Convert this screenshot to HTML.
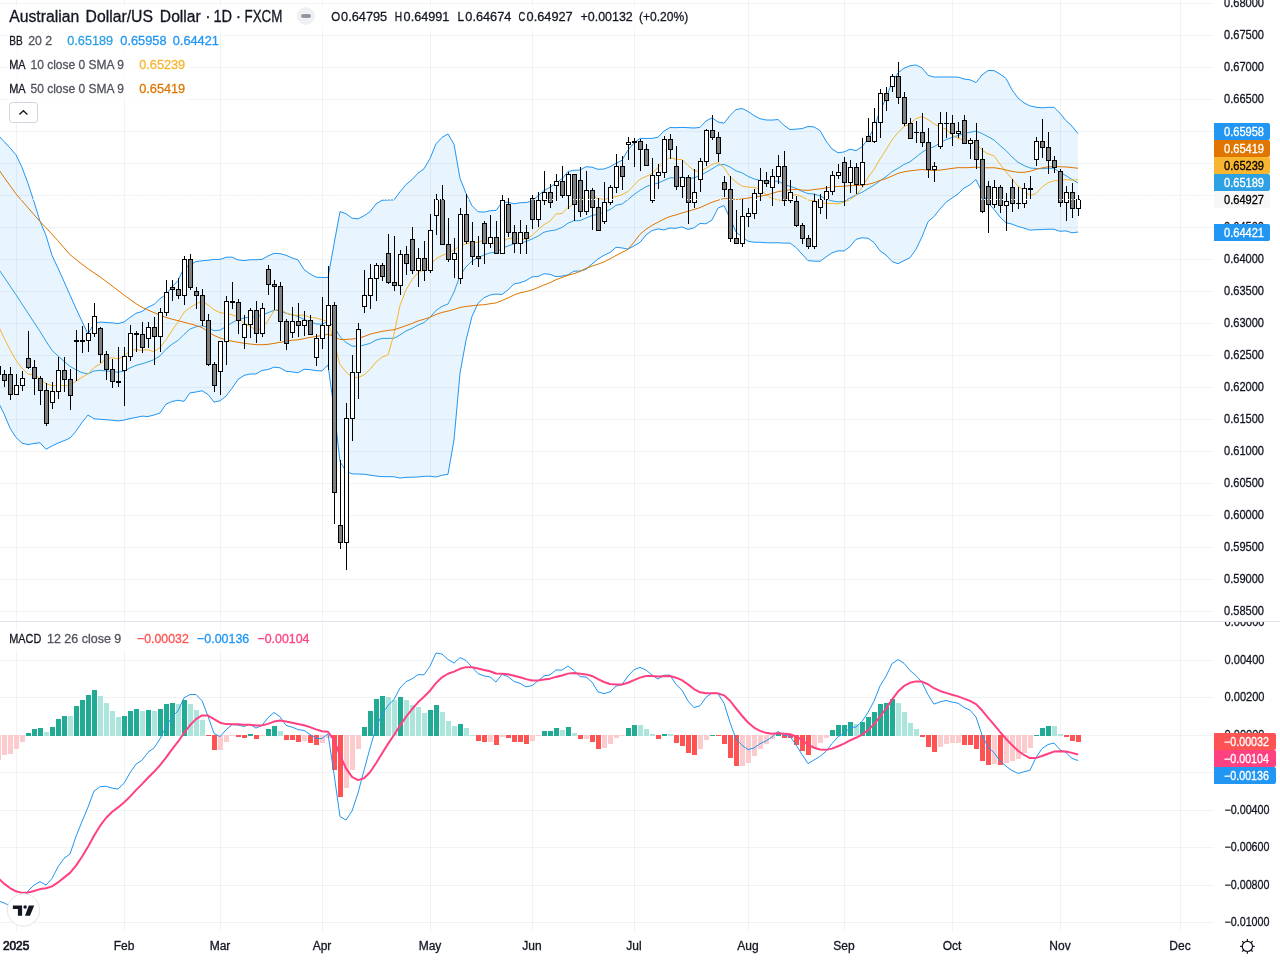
<!DOCTYPE html>
<html lang="en"><head><meta charset="utf-8"><title>AUDUSD chart</title>
<style>html,body{margin:0;padding:0;background:#fff;width:1280px;height:960px;overflow:hidden}svg{display:block}text{font-family:'Liberation Sans', Arial, sans-serif;white-space:pre}</style>
</head><body>
<svg width="1280" height="960" viewBox="0 0 1280 960"><path d="M16.5 0V932 M124.5 0V932 M220.5 0V932 M322.5 0V932 M430.5 0V932 M532.5 0V932 M634.5 0V932 M748.5 0V932 M844.5 0V932 M952.5 0V932 M1060.5 0V932 M1180.5 0V932" stroke="#2a2e39" stroke-opacity="0.06" stroke-width="1" fill="none" shape-rendering="crispEdges"/>
<path d="M0 3.5H1214 M0 35.5H1214 M0 67.5H1214 M0 99.5H1214 M0 131.5H1214 M0 163.5H1214 M0 195.5H1214 M0 227.5H1214 M0 259.5H1214 M0 291.5H1214 M0 323.5H1214 M0 355.5H1214 M0 387.5H1214 M0 419.5H1214 M0 451.5H1214 M0 483.5H1214 M0 515.5H1214 M0 547.5H1214 M0 579.5H1214 M0 611.5H1214 M0 660.5H1214 M0 697.5H1214 M0 735.5H1214 M0 772.5H1214 M0 810.5H1214 M0 847.5H1214 M0 885.5H1214 M0 922.5H1214" stroke="#2a2e39" stroke-opacity="0.06" stroke-width="1" fill="none" shape-rendering="crispEdges"/>
<defs><clipPath id="cm"><rect x="0" y="0" width="1214" height="621"/></clipPath><clipPath id="cd"><rect x="0" y="622" width="1214" height="309"/></clipPath><clipPath id="am"><rect x="1214" y="0" width="66" height="621"/></clipPath><clipPath id="ad"><rect x="1214" y="622" width="66" height="309"/></clipPath></defs>
<g clip-path="url(#cm)">
<polygon points="-2,135 4,141.5 10,147.9 16,154.8 22,167.4 28,183.4 34,201.8 40,221.2 46,235.5 52,255.3 58,268.2 64,281.5 70,295 76,308.5 82,321.3 88,334 94,323.5 100,322 106,322.5 112,322.9 118,323.54 124,321.99 130,317.47 136,313.31 142,311.49 148,307.14 154,304.44 160,298.66 166,294.39 172,286.85 178,280.63 184,267.56 190,265.2 196,261.52 202,260.77 208,260.25 214,259.43 220,259.4 226,257.25 232,257.14 238,259.87 244,260.59 250,259.76 256,259.77 262,259.39 268,255.97 274,253.38 280,253.64 286,255.25 292,257.86 298,259.92 304,269.58 310,273.9 316,277.17 322,277.45 328,277.58 334,244.11 340,211.56 346,213.77 352,218.15 358,218.91 364,215.8 370,211.75 376,204.03 382,200.27 388,200.02 394,199.88 400,191.84 406,184.54 412,179.64 418,173.16 424,168.77 430,158.51 436,143.81 442,137.43 448,133.9 454,144.29 460,178.25 466,193.41 472,205.66 478,211.71 484,212.1 490,210.73 496,210.5 502,202.42 508,202.12 514,203.84 520,202.72 526,202.53 532,201.1 538,195.68 544,190.67 550,187.2 556,183.12 562,178.78 568,171.48 574,170.3 580,170.06 586,166.74 592,167.19 598,169.3 604,169 610,166.77 616,163.29 622,160.25 628,150.06 634,143.1 640,138.34 646,138.46 652,138.37 658,137.22 664,130.96 670,127.54 676,127.67 682,127.38 688,127.66 694,128.01 700,127.4 706,120.96 712,117.84 718,122.02 724,123.27 730,115.49 736,109.57 742,108.48 748,111.38 754,115.6 760,118.67 766,119.99 772,120.08 778,119.54 784,125.25 790,129.6 796,129.11 802,128.61 808,126.5 814,126.89 820,130.52 826,141 832,148.92 838,152.77 844,151.94 850,149.21 856,150.62 862,146.8 868,139.16 874,127.85 880,110.85 886,98.39 892,81.92 898,72.8 904,68.22 910,65.78 916,64.96 922,67.9 928,75.29 934,77.08 940,76.97 946,76.98 952,77.03 958,77.1 964,79.05 970,79.81 976,82.56 982,74.98 988,70.51 994,70.6 1000,74.09 1006,78.35 1012,89.79 1018,98.02 1024,102.89 1030,105.9 1036,107.23 1042,107.86 1048,107.31 1054,107.38 1060,113.25 1066,120.56 1072,126.14 1078,133.69 1078,232.07 1072,232.8 1066,230.88 1060,231.29 1054,229.26 1048,229.21 1042,229.55 1036,229.69 1030,230.14 1024,228.1 1018,226.47 1012,224.1 1006,222.81 1000,216.99 994,209.3 988,202.89 982,192.1 976,179.55 970,184.76 964,188.16 958,193.95 952,198.06 946,202.26 940,209.04 934,216.49 928,221.74 922,236.82 916,249.33 910,257.77 904,260.69 898,263.77 892,261.5 886,255.02 880,250.84 874,242.51 868,238.26 862,237.77 856,239.34 850,246.63 844,250.98 838,250.87 832,252.83 826,256.98 820,261.31 814,261.13 808,260.61 802,254.1 796,247.49 790,243.09 784,243.13 778,242.74 772,242.8 766,242.76 760,242.26 754,242.21 748,241.29 742,237.11 736,232.03 730,218.41 724,205.53 718,208.08 712,219.96 706,223.83 700,223.43 694,227.85 688,229.41 682,226.85 676,228.35 670,228.01 664,229.87 658,228.94 652,230.61 646,234.94 640,242.38 634,245.93 628,249.12 622,247.93 616,247.28 610,252.5 604,255.24 598,259.06 592,263.98 586,269.33 580,271.1 574,271.15 568,274.88 562,276.13 556,276.68 550,274.39 544,273.73 538,276.49 532,276.88 526,280.55 520,282.85 514,283.92 508,289.83 502,294.53 496,294.06 490,295.02 484,297.78 478,303.34 472,316.48 466,340.33 460,373.17 454,439.94 448,474.21 442,475.25 436,477.01 430,476.21 424,476.36 418,476.98 412,477.2 406,477.38 400,478.05 394,476.73 388,476.7 382,476.64 376,476.04 370,475.09 364,474.23 358,474.03 352,473.89 346,471.19 340,461.71 334,409.03 328,364.87 322,370.9 316,370.68 310,369.66 304,369.26 298,372.77 292,371.86 286,371.28 280,367.8 274,367.15 268,369.54 262,370.43 256,373.97 250,374 244,375.47 238,379.4 232,388.28 226,396.17 220,400.8 214,402.08 208,394.39 202,390.77 196,392.02 190,392.84 184,401.3 178,400.25 172,401.51 166,404.18 160,413.04 154,415.01 148,416.52 142,416.17 136,417.47 130,418.51 124,420.09 118,420.92 112,420.25 106,419.7 100,419.3 94,418.75 88,415 82,422.4 76,431.1 70,438.1 64,440.7 58,443.1 52,445.9 46,449.3 40,442.75 34,443.5 28,444.6 22,443.1 16,437.5 10,428.1 4,413.8 -2,401.7" fill="#2196f3" fill-opacity="0.1"/>
<polyline points="-2,268.2 4,277 10,285.9 16,294.8 22,304 28,313.1 34,322.3 40,331.5 46,341.2 52,350.4 58,355.9 64,361.3 70,366.4 76,369.8 82,372.7 88,373.9 94,371 100,370.3 106,371 112,371.5 118,372.23 124,371.04 130,367.99 136,365.39 142,363.83 148,361.83 154,359.72 160,355.85 166,349.29 172,344.18 178,340.44 184,334.43 190,329.02 196,326.77 202,325.77 208,327.32 214,330.76 220,330.1 226,326.71 232,322.71 238,319.64 244,318.03 250,316.88 256,316.87 262,314.91 268,312.76 274,310.27 280,310.72 286,313.27 292,314.86 298,316.35 304,319.42 310,321.78 316,323.93 322,324.18 328,321.23 334,326.57 340,336.64 346,342.48 352,346.02 358,346.47 364,345.02 370,343.42 376,340.04 382,338.46 388,338.36 394,338.31 400,334.95 406,330.96 412,328.42 418,325.07 424,322.56 430,317.36 436,310.41 442,306.34 448,304.05 454,292.12 460,275.71 466,266.87 472,261.07 478,257.53 484,254.94 490,252.88 496,252.28 502,248.48 508,245.98 514,243.88 520,242.79 526,241.54 532,238.99 538,236.09 544,232.2 550,230.8 556,229.9 562,227.46 568,223.18 574,220.73 580,220.58 586,218.04 592,215.58 598,214.18 604,212.12 610,209.64 616,205.29 622,204.09 628,199.59 634,194.52 640,190.36 646,186.7 652,184.49 658,183.08 664,180.42 670,177.77 676,178.01 682,177.12 688,178.54 694,177.93 700,175.42 706,172.4 712,168.9 718,165.05 724,164.4 730,166.95 736,170.8 742,172.8 748,176.34 754,178.91 760,180.47 766,181.38 772,181.44 778,181.14 784,184.19 790,186.35 796,188.3 802,191.35 808,193.56 814,194.01 820,195.92 826,198.99 832,200.88 838,201.82 844,201.46 850,197.92 856,194.98 862,192.29 868,188.71 874,185.18 880,180.84 886,176.7 892,171.71 898,168.29 904,164.46 910,161.77 916,157.14 922,152.36 928,148.52 934,146.78 940,143 946,139.62 952,137.55 958,135.53 964,133.61 970,132.29 976,131.05 982,133.54 988,136.7 994,139.95 1000,145.54 1006,150.58 1012,156.95 1018,162.25 1024,165.5 1030,168.02 1036,168.46 1042,168.71 1048,168.26 1054,168.32 1060,172.27 1066,175.72 1072,179.47 1078,182.88" fill="none" stroke="#2ea0e4" stroke-width="1"/>
<polyline points="-2,135 4,141.5 10,147.9 16,154.8 22,167.4 28,183.4 34,201.8 40,221.2 46,235.5 52,255.3 58,268.2 64,281.5 70,295 76,308.5 82,321.3 88,334 94,323.5 100,322 106,322.5 112,322.9 118,323.54 124,321.99 130,317.47 136,313.31 142,311.49 148,307.14 154,304.44 160,298.66 166,294.39 172,286.85 178,280.63 184,267.56 190,265.2 196,261.52 202,260.77 208,260.25 214,259.43 220,259.4 226,257.25 232,257.14 238,259.87 244,260.59 250,259.76 256,259.77 262,259.39 268,255.97 274,253.38 280,253.64 286,255.25 292,257.86 298,259.92 304,269.58 310,273.9 316,277.17 322,277.45 328,277.58 334,244.11 340,211.56 346,213.77 352,218.15 358,218.91 364,215.8 370,211.75 376,204.03 382,200.27 388,200.02 394,199.88 400,191.84 406,184.54 412,179.64 418,173.16 424,168.77 430,158.51 436,143.81 442,137.43 448,133.9 454,144.29 460,178.25 466,193.41 472,205.66 478,211.71 484,212.1 490,210.73 496,210.5 502,202.42 508,202.12 514,203.84 520,202.72 526,202.53 532,201.1 538,195.68 544,190.67 550,187.2 556,183.12 562,178.78 568,171.48 574,170.3 580,170.06 586,166.74 592,167.19 598,169.3 604,169 610,166.77 616,163.29 622,160.25 628,150.06 634,143.1 640,138.34 646,138.46 652,138.37 658,137.22 664,130.96 670,127.54 676,127.67 682,127.38 688,127.66 694,128.01 700,127.4 706,120.96 712,117.84 718,122.02 724,123.27 730,115.49 736,109.57 742,108.48 748,111.38 754,115.6 760,118.67 766,119.99 772,120.08 778,119.54 784,125.25 790,129.6 796,129.11 802,128.61 808,126.5 814,126.89 820,130.52 826,141 832,148.92 838,152.77 844,151.94 850,149.21 856,150.62 862,146.8 868,139.16 874,127.85 880,110.85 886,98.39 892,81.92 898,72.8 904,68.22 910,65.78 916,64.96 922,67.9 928,75.29 934,77.08 940,76.97 946,76.98 952,77.03 958,77.1 964,79.05 970,79.81 976,82.56 982,74.98 988,70.51 994,70.6 1000,74.09 1006,78.35 1012,89.79 1018,98.02 1024,102.89 1030,105.9 1036,107.23 1042,107.86 1048,107.31 1054,107.38 1060,113.25 1066,120.56 1072,126.14 1078,133.69" fill="none" stroke="#2196f3" stroke-width="1"/>
<polyline points="-2,401.7 4,413.8 10,428.1 16,437.5 22,443.1 28,444.6 34,443.5 40,442.75 46,449.3 52,445.9 58,443.1 64,440.7 70,438.1 76,431.1 82,422.4 88,415 94,418.75 100,419.3 106,419.7 112,420.25 118,420.92 124,420.09 130,418.51 136,417.47 142,416.17 148,416.52 154,415.01 160,413.04 166,404.18 172,401.51 178,400.25 184,401.3 190,392.84 196,392.02 202,390.77 208,394.39 214,402.08 220,400.8 226,396.17 232,388.28 238,379.4 244,375.47 250,374 256,373.97 262,370.43 268,369.54 274,367.15 280,367.8 286,371.28 292,371.86 298,372.77 304,369.26 310,369.66 316,370.68 322,370.9 328,364.87 334,409.03 340,461.71 346,471.19 352,473.89 358,474.03 364,474.23 370,475.09 376,476.04 382,476.64 388,476.7 394,476.73 400,478.05 406,477.38 412,477.2 418,476.98 424,476.36 430,476.21 436,477.01 442,475.25 448,474.21 454,439.94 460,373.17 466,340.33 472,316.48 478,303.34 484,297.78 490,295.02 496,294.06 502,294.53 508,289.83 514,283.92 520,282.85 526,280.55 532,276.88 538,276.49 544,273.73 550,274.39 556,276.68 562,276.13 568,274.88 574,271.15 580,271.1 586,269.33 592,263.98 598,259.06 604,255.24 610,252.5 616,247.28 622,247.93 628,249.12 634,245.93 640,242.38 646,234.94 652,230.61 658,228.94 664,229.87 670,228.01 676,228.35 682,226.85 688,229.41 694,227.85 700,223.43 706,223.83 712,219.96 718,208.08 724,205.53 730,218.41 736,232.03 742,237.11 748,241.29 754,242.21 760,242.26 766,242.76 772,242.8 778,242.74 784,243.13 790,243.09 796,247.49 802,254.1 808,260.61 814,261.13 820,261.31 826,256.98 832,252.83 838,250.87 844,250.98 850,246.63 856,239.34 862,237.77 868,238.26 874,242.51 880,250.84 886,255.02 892,261.5 898,263.77 904,260.69 910,257.77 916,249.33 922,236.82 928,221.74 934,216.49 940,209.04 946,202.26 952,198.06 958,193.95 964,188.16 970,184.76 976,179.55 982,192.1 988,202.89 994,209.3 1000,216.99 1006,222.81 1012,224.1 1018,226.47 1024,228.1 1030,230.14 1036,229.69 1042,229.55 1048,229.21 1054,229.26 1060,231.29 1066,230.88 1072,232.8 1078,232.07" fill="none" stroke="#2196f3" stroke-width="1"/>
<polyline points="-2,325 4,337.75 10,349.75 16,360.15 22,368.25 28,374.19 34,374.6 40,378.68 46,383.75 52,385.6 58,385.58 64,385.49 70,385.59 76,381.11 82,377.33 88,373.92 94,367.73 100,364.17 106,358.73 112,357.73 118,358.88 124,356.59 130,350.39 136,349.67 142,350.33 148,349.74 154,351.72 160,347.53 166,339.84 172,330.63 178,322 184,312.26 190,307.65 196,303.87 202,301.21 208,304.9 214,309.8 220,312.67 226,313.57 232,314.79 238,317.27 244,323.8 250,326.12 256,329.87 262,328.62 268,320.62 274,310.74 280,308.78 286,312.96 292,314.93 298,315.43 304,315.05 310,317.45 316,317.99 322,319.74 328,321.84 334,342.41 340,364.5 346,372 352,377.12 358,377.52 364,374.99 370,369.4 376,362.09 382,357.18 388,354.89 394,334.21 400,305.4 406,289.93 412,279.72 418,272.63 424,270.14 430,265.33 436,258.73 442,255.51 448,253.22 454,250.03 460,246.03 466,243.82 472,242.43 478,242.43 484,239.74 490,240.42 496,245.83 502,241.44 508,238.73 514,237.73 520,239.54 526,239.27 532,235.56 538,229.75 544,224.67 550,221.17 556,213.97 562,213.47 568,207.63 574,203.72 580,201.62 586,196.81 592,195.61 598,198.61 604,199.58 610,198.1 616,196.6 622,194.71 628,191.55 634,185.31 640,179.1 646,176.59 652,173.37 658,167.56 664,161.26 670,157.45 676,159.42 682,159.52 688,165.52 694,170.55 700,171.73 706,168.21 712,164.43 718,162.55 724,167.55 730,176.46 736,182.18 742,186.07 748,187.15 754,187.27 760,189.2 766,194.55 772,198.45 778,199.74 784,200.84 790,196.24 796,194.43 802,196.64 808,199.97 814,200.75 820,202.63 826,203.43 832,203.31 838,203.91 844,202.09 850,199.58 856,195.5 862,187.89 868,177.39 874,169.54 880,158.96 886,149.87 892,139.98 898,132.52 904,126.67 910,123.81 916,118.63 922,116.67 928,119.48 934,123.87 940,126.89 946,129.21 952,134.95 958,138.37 964,140.39 970,140.61 976,143.32 982,150.24 988,153.76 994,155.88 1000,164.05 1006,171.82 1012,178.82 1018,186.03 1024,190.53 1030,195.37 1036,193.55 1042,187.14 1048,182.74 1054,180.77 1060,180.49 1066,179.62 1072,180.12 1078,179.73" fill="none" stroke="#f8b530" stroke-width="1"/>
<polyline points="-2,168.5 4,177.2 10,185.6 16,193.88 22,200.81 28,207.75 34,214.69 40,221.39 46,227.81 52,234.23 58,240.9 64,247.77 70,254.63 76,259.5 82,264.2 88,268.74 94,272.77 100,276.8 106,281.33 112,285.88 118,290.44 124,295 130,299.34 136,303.67 142,307.32 148,310 154,312.66 160,315.06 166,317.46 172,319.19 178,320.68 184,322.22 190,323.84 196,325.48 202,327.68 208,331.5 214,335.39 220,338.03 226,339.72 232,341.23 238,342.26 244,343.25 250,344 256,344.63 262,344.77 268,344.33 274,343.42 280,342.32 286,341.33 292,340.21 298,339.83 304,338.64 310,337.44 316,336.5 322,335.44 328,334.2 334,336.48 340,339.53 346,339.42 352,339.04 358,338.22 364,336.54 370,334.2 376,332.7 382,331.41 388,330.4 394,329.77 400,327.77 406,325.66 412,323.44 418,320.97 424,319.25 430,317.19 436,314.51 442,312.45 448,311.09 454,309.44 460,307.47 466,306.45 472,305.8 478,305.05 484,304.74 490,303.74 496,302.9 502,300.5 508,297.86 514,295.02 520,292.85 526,291.59 532,289.95 538,287.55 544,284.92 550,282.75 556,279.72 562,277.47 568,275.26 574,273.62 580,271.42 586,268.36 592,266.09 598,264.19 604,261.82 610,258.88 616,255.44 622,252.46 628,249.2 634,242.2 640,234.34 646,229.28 652,225.34 658,222.19 664,219.08 670,216.49 676,214.91 682,212.93 688,211.33 694,209.47 700,207.6 706,204.94 712,202.28 718,200.18 724,198.56 730,198.72 736,199.6 742,199.04 748,198.12 754,196.91 760,196.24 766,195.08 772,193.48 778,191.64 784,190.78 790,189.88 796,189.32 802,190.08 808,190.36 814,189.52 820,188.86 826,187.92 832,187.03 838,186.47 844,186.26 850,185.58 856,185.65 862,185 868,184.37 874,182.75 880,180.4 886,178.62 892,176.01 898,173.37 904,171.81 910,170.84 916,170.18 922,169.51 928,170.07 934,170.57 940,170.07 946,169.25 952,168.43 958,167.63 964,167.73 970,167.57 976,167.05 982,167.75 988,167.8 994,167.72 1000,168.6 1006,170.02 1012,171.34 1018,172.34 1024,172.32 1030,171.33 1036,169.29 1042,167.91 1048,166.85 1054,166.34 1060,166.77 1066,166.95 1072,167.59 1078,168.26" fill="none" stroke="#e07600" stroke-width="1"/>
<path d="M-1.5 362V380 M4.5 370V387 M10.5 367V400 M16.5 374V395 M22.5 371V391 M28.5 331V369 M34.5 360V395 M40.5 376V405 M46.5 383V426 M52.5 382V409 M58.5 357V399 M64.5 357V392 M70.5 369V410 M76.5 330V381 M82.5 326V353 M88.5 323V352 M94.5 303V337 M100.5 327V363 M106.5 351V380 M112.5 359V388 M118.5 347V387 M124.5 347V406 M130.5 325V361 M136.5 331V352 M142.5 322V353 M148.5 322V348 M154.5 317V365 M160.5 308V352 M166.5 280V316 M172.5 280V301 M178.5 278V299 M184.5 256V305 M190.5 254V290 M196.5 287V309 M202.5 289V326 M208.5 314V366 M214.5 362V392 M220.5 341V395 M226.5 296V365 M232.5 282V309 M238.5 299V334 M244.5 315V349 M250.5 308V338 M256.5 301V343 M262.5 303V337 M268.5 265V295 M274.5 280V310 M280.5 282V341 M286.5 319V350 M292.5 307V338 M298.5 303V337 M304.5 311V336 M310.5 315V335 M316.5 334V366 M322.5 297V349 M328.5 266V370 M334.5 302V524 M340.5 460V549 M346.5 403V570 M352.5 355V441 M358.5 323V399 M364.5 270V313 M370.5 264V309 M376.5 263V301 M382.5 263V281 M388.5 234V284 M394.5 236V291 M400.5 250V295 M406.5 246V275 M412.5 227V274 M418.5 248V287 M424.5 241V281 M430.5 214V273 M436.5 194V235 M442.5 185V245 M448.5 218V262 M454.5 238V278 M460.5 208V284 M466.5 194V244 M472.5 222V265 M478.5 236V267 M484.5 221V264 M490.5 215V248 M496.5 221V254 M502.5 195V254 M508.5 198V237 M514.5 225V253 M520.5 220V254 M526.5 225V254 M532.5 195V229 M538.5 192V227 M544.5 171V205 M550.5 184V208 M556.5 174V201 M562.5 166V198 M568.5 172V209 M574.5 174V221 M580.5 167V217 M586.5 171V215 M592.5 188V230 M598.5 198V231 M604.5 182V224 M610.5 185V205 M616.5 154V193 M622.5 156V190 M628.5 137V160 M634.5 138V167 M640.5 139V171 M646.5 144V166 M652.5 158V203 M658.5 164V189 M664.5 136V178 M670.5 134V159 M676.5 146V190 M682.5 160V198 M688.5 175V224 M694.5 169V208 M700.5 158V192 M706.5 129V166 M712.5 115V140 M718.5 132V162 M724.5 176V197 M730.5 176V242 M736.5 210V244 M742.5 199V247 M748.5 208V227 M754.5 189V219 M760.5 168V201 M766.5 172V187 M772.5 169V206 M778.5 155V184 M784.5 151V206 M790.5 180V203 M796.5 196V227 M802.5 223V244 M808.5 235V249 M814.5 194V249 M820.5 194V214 M826.5 186V219 M832.5 171V195 M838.5 164V179 M844.5 157V206 M850.5 160V193 M856.5 163V194 M862.5 138V187 M868.5 118V142 M874.5 108V143 M880.5 89V138 M886.5 87V111 M892.5 74V92 M898.5 62V104 M904.5 92V126 M910.5 118V139 M916.5 121V143 M922.5 113V147 M928.5 128V178 M934.5 162V182 M940.5 112V149 M946.5 112V138 M952.5 115V146 M958.5 122V138 M964.5 115V144 M970.5 138V159 M976.5 123V169 M982.5 148V213 M988.5 181V233 M994.5 180V208 M1000.5 185V213 M1006.5 193V231 M1012.5 179V212 M1018.5 187V209 M1024.5 183V208 M1030.5 176V199 M1036.5 137V166 M1042.5 119V158 M1048.5 132V174 M1054.5 156V173 M1060.5 169V207 M1066.5 186V221 M1072.5 183V218 M1078.5 195V216" stroke="#000" stroke-width="1" fill="none" shape-rendering="crispEdges"/>
<path d="M-4.0 366h5v9h-5z M2.0 374h5v7h-5z M8.0 374h5v21h-5z M14.0 385h5v10h-5z M20.0 378h5v8h-5z M26.0 358h5v10h-5z M32.0 367h5v12h-5z M38.0 378h5v13h-5z M44.0 390h5v34h-5z M50.0 391h5v12h-5z M56.0 370h5v22h-5z M62.0 370h5v10h-5z M68.0 379h5v17h-5z M74.0 340h5v2h-5z M80.0 340h5v2h-5z M86.0 333h5v8h-5z M92.0 316h5v18h-5z M98.0 328h5v27h-5z M104.0 354h5v16h-5z M110.0 369h5v13h-5z M116.0 381h5v2h-5z M122.0 356h5v15h-5z M128.0 333h5v24h-5z M134.0 333h5v2h-5z M140.0 334h5v14h-5z M146.0 327h5v12h-5z M152.0 327h5v10h-5z M158.0 312h5v25h-5z M164.0 292h5v21h-5z M170.0 287h5v3h-5z M176.0 289h5v7h-5z M182.0 259h5v37h-5z M188.0 259h5v29h-5z M194.0 291h5v5h-5z M200.0 295h5v26h-5z M206.0 320h5v45h-5z M212.0 364h5v22h-5z M218.0 341h5v31h-5z M224.0 301h5v41h-5z M230.0 301h5v2h-5z M236.0 302h5v19h-5z M242.0 324h5v14h-5z M248.0 310h5v15h-5z M254.0 310h5v24h-5z M260.0 308h5v26h-5z M266.0 269h5v16h-5z M272.0 284h5v3h-5z M278.0 286h5v36h-5z M284.0 321h5v23h-5z M290.0 321h5v12h-5z M296.0 321h5v5h-5z M302.0 320h5v6h-5z M308.0 320h5v15h-5z M314.0 338h5v20h-5z M320.0 325h5v14h-5z M326.0 305h5v21h-5z M332.0 305h5v188h-5z M338.0 525h5v18h-5z M344.0 418h5v125h-5z M350.0 372h5v47h-5z M356.0 329h5v44h-5z M362.0 295h5v12h-5z M368.0 278h5v18h-5z M374.0 265h5v14h-5z M380.0 265h5v12h-5z M386.0 253h5v30h-5z M392.0 282h5v4h-5z M398.0 254h5v32h-5z M404.0 254h5v10h-5z M410.0 239h5v32h-5z M416.0 258h5v13h-5z M422.0 258h5v13h-5z M428.0 230h5v41h-5z M434.0 199h5v17h-5z M440.0 199h5v46h-5z M446.0 244h5v16h-5z M452.0 253h5v7h-5z M458.0 214h5v65h-5z M464.0 214h5v28h-5z M470.0 241h5v16h-5z M476.0 256h5v3h-5z M482.0 223h5v21h-5z M488.0 237h5v7h-5z M494.0 237h5v17h-5z M500.0 200h5v54h-5z M506.0 204h5v29h-5z M512.0 232h5v12h-5z M518.0 232h5v12h-5z M524.0 232h5v7h-5z M530.0 198h5v22h-5z M536.0 200h5v20h-5z M542.0 192h5v9h-5z M548.0 192h5v11h-5z M554.0 181h5v5h-5z M560.0 181h5v15h-5z M566.0 174h5v22h-5z M572.0 174h5v31h-5z M578.0 180h5v32h-5z M584.0 190h5v22h-5z M590.0 190h5v18h-5z M596.0 207h5v24h-5z M602.0 202h5v20h-5z M608.0 187h5v16h-5z M614.0 166h5v22h-5z M620.0 166h5v11h-5z M626.0 142h5v3h-5z M632.0 141h5v2h-5z M638.0 141h5v9h-5z M644.0 149h5v17h-5z M650.0 175h5v26h-5z M656.0 172h5v4h-5z M662.0 139h5v34h-5z M668.0 139h5v11h-5z M674.0 166h5v21h-5z M680.0 177h5v10h-5z M686.0 177h5v26h-5z M692.0 192h5v11h-5z M698.0 161h5v19h-5z M704.0 130h5v32h-5z M710.0 130h5v8h-5z M716.0 137h5v17h-5z M722.0 182h5v8h-5z M728.0 189h5v50h-5z M734.0 238h5v6h-5z M740.0 216h5v28h-5z M746.0 213h5v4h-5z M752.0 193h5v21h-5z M758.0 180h5v14h-5z M764.0 180h5v4h-5z M770.0 176h5v12h-5z M776.0 166h5v11h-5z M782.0 166h5v35h-5z M788.0 192h5v9h-5z M794.0 201h5v25h-5z M800.0 225h5v14h-5z M806.0 238h5v9h-5z M812.0 201h5v46h-5z M818.0 199h5v9h-5z M824.0 191h5v9h-5z M830.0 175h5v17h-5z M836.0 172h5v4h-5z M842.0 162h5v21h-5z M848.0 167h5v16h-5z M854.0 167h5v18h-5z M860.0 162h5v23h-5z M866.0 136h5v6h-5z M872.0 122h5v20h-5z M878.0 93h5v30h-5z M884.0 93h5v8h-5z M890.0 76h5v11h-5z M896.0 76h5v22h-5z M902.0 97h5v27h-5z M908.0 123h5v16h-5z M914.0 132h5v1h-5z M920.0 132h5v11h-5z M926.0 142h5v28h-5z M932.0 166h5v4h-5z M938.0 123h5v24h-5z M944.0 123h5v1h-5z M950.0 123h5v11h-5z M956.0 131h5v3h-5z M962.0 120h5v24h-5z M968.0 140h5v4h-5z M974.0 140h5v20h-5z M980.0 159h5v53h-5z M986.0 186h5v19h-5z M992.0 187h5v18h-5z M998.0 187h5v19h-5z M1004.0 201h5v5h-5z M1010.0 187h5v17h-5z M1016.0 203h5v1h-5z M1022.0 188h5v16h-5z M1028.0 188h5v2h-5z M1034.0 141h5v19h-5z M1040.0 141h5v7h-5z M1046.0 147h5v14h-5z M1052.0 160h5v8h-5z M1058.0 171h5v32h-5z M1064.0 192h5v11h-5z M1070.0 192h5v17h-5z M1076.0 199h5v10h-5z" fill="#000" shape-rendering="crispEdges"/>
<path d="M15.0 386h3v8h-3z M21.0 379h3v6h-3z M51.0 392h3v10h-3z M57.0 371h3v20h-3z M87.0 334h3v6h-3z M93.0 317h3v16h-3z M123.0 357h3v13h-3z M129.0 334h3v22h-3z M147.0 328h3v10h-3z M159.0 313h3v23h-3z M165.0 293h3v19h-3z M183.0 260h3v35h-3z M219.0 342h3v29h-3z M225.0 302h3v39h-3z M243.0 325h3v12h-3z M249.0 311h3v13h-3z M261.0 309h3v24h-3z M291.0 322h3v10h-3z M303.0 321h3v4h-3z M315.0 339h3v18h-3z M321.0 326h3v12h-3z M327.0 306h3v19h-3z M345.0 419h3v123h-3z M351.0 373h3v45h-3z M357.0 330h3v42h-3z M363.0 296h3v10h-3z M369.0 279h3v16h-3z M375.0 266h3v12h-3z M399.0 255h3v30h-3z M417.0 259h3v11h-3z M429.0 231h3v39h-3z M435.0 200h3v15h-3z M453.0 254h3v5h-3z M459.0 215h3v63h-3z M489.0 238h3v5h-3z M501.0 201h3v52h-3z M519.0 233h3v10h-3z M537.0 201h3v18h-3z M543.0 193h3v7h-3z M555.0 182h3v3h-3z M567.0 175h3v20h-3z M585.0 191h3v20h-3z M603.0 203h3v18h-3z M609.0 188h3v14h-3z M615.0 167h3v20h-3z M627.0 143h3v1h-3z M651.0 176h3v24h-3z M657.0 173h3v2h-3z M663.0 140h3v32h-3z M681.0 178h3v8h-3z M693.0 193h3v9h-3z M699.0 162h3v17h-3z M705.0 131h3v30h-3z M741.0 217h3v26h-3z M747.0 214h3v2h-3z M753.0 194h3v19h-3z M759.0 181h3v12h-3z M771.0 177h3v10h-3z M777.0 167h3v9h-3z M789.0 193h3v7h-3z M813.0 202h3v44h-3z M819.0 200h3v7h-3z M825.0 192h3v7h-3z M831.0 176h3v15h-3z M837.0 173h3v2h-3z M849.0 168h3v14h-3z M861.0 163h3v21h-3z M873.0 123h3v18h-3z M879.0 94h3v28h-3z M891.0 77h3v9h-3z M933.0 167h3v2h-3z M939.0 124h3v22h-3z M957.0 132h3v1h-3z M969.0 141h3v2h-3z M993.0 188h3v16h-3z M1005.0 202h3v3h-3z M1023.0 189h3v14h-3z M1035.0 142h3v17h-3z M1065.0 193h3v9h-3z M1077.0 200h3v8h-3z" fill="#fff" shape-rendering="crispEdges"/>
<path d="M-3.0 367h3v7h-3z M3.0 375h3v5h-3z M9.0 375h3v19h-3z M27.0 359h3v8h-3z M33.0 368h3v10h-3z M39.0 379h3v11h-3z M45.0 391h3v32h-3z M63.0 371h3v8h-3z M69.0 380h3v15h-3z M99.0 329h3v25h-3z M105.0 355h3v14h-3z M111.0 370h3v11h-3z M141.0 335h3v12h-3z M153.0 328h3v8h-3z M171.0 288h3v1h-3z M177.0 290h3v5h-3z M189.0 260h3v27h-3z M195.0 292h3v3h-3z M201.0 296h3v24h-3z M207.0 321h3v43h-3z M213.0 365h3v20h-3z M237.0 303h3v17h-3z M255.0 311h3v22h-3z M267.0 270h3v14h-3z M273.0 285h3v1h-3z M279.0 287h3v34h-3z M285.0 322h3v21h-3z M297.0 322h3v3h-3z M309.0 321h3v13h-3z M333.0 306h3v186h-3z M339.0 526h3v16h-3z M381.0 266h3v10h-3z M387.0 254h3v28h-3z M393.0 283h3v2h-3z M405.0 255h3v8h-3z M411.0 240h3v30h-3z M423.0 259h3v11h-3z M441.0 200h3v44h-3z M447.0 245h3v14h-3z M465.0 215h3v26h-3z M471.0 242h3v14h-3z M477.0 257h3v1h-3z M483.0 224h3v19h-3z M495.0 238h3v15h-3z M507.0 205h3v27h-3z M513.0 233h3v10h-3z M525.0 233h3v5h-3z M531.0 199h3v20h-3z M549.0 193h3v9h-3z M561.0 182h3v13h-3z M573.0 175h3v29h-3z M579.0 181h3v30h-3z M591.0 191h3v16h-3z M597.0 208h3v22h-3z M621.0 167h3v9h-3z M639.0 142h3v7h-3z M645.0 150h3v15h-3z M669.0 140h3v9h-3z M675.0 167h3v19h-3z M687.0 178h3v24h-3z M711.0 131h3v6h-3z M717.0 138h3v15h-3z M723.0 183h3v6h-3z M729.0 190h3v48h-3z M735.0 239h3v4h-3z M765.0 181h3v2h-3z M783.0 167h3v33h-3z M795.0 202h3v23h-3z M801.0 226h3v12h-3z M807.0 239h3v7h-3z M843.0 163h3v19h-3z M855.0 168h3v16h-3z M867.0 137h3v4h-3z M885.0 94h3v6h-3z M897.0 77h3v20h-3z M903.0 98h3v25h-3z M909.0 124h3v14h-3z M921.0 133h3v9h-3z M927.0 143h3v26h-3z M951.0 124h3v9h-3z M963.0 121h3v22h-3z M975.0 141h3v18h-3z M981.0 160h3v51h-3z M987.0 187h3v17h-3z M999.0 188h3v17h-3z M1011.0 188h3v15h-3z M1041.0 142h3v5h-3z M1047.0 148h3v12h-3z M1053.0 161h3v6h-3z M1059.0 172h3v30h-3z M1071.0 193h3v15h-3z" fill="#808080" shape-rendering="crispEdges"/>
<path d="M0 199.5H1214" stroke="#f7f7f7" stroke-width="1" stroke-dasharray="1 2" shape-rendering="crispEdges"/>
</g>
<g clip-path="url(#cd)">
<path d="M26.0 733h5v3h-5z M32.0 729h5v7h-5z M38.0 728h5v8h-5z M50.0 727h5v9h-5z M56.0 719h5v17h-5z M62.0 716h5v20h-5z M74.0 706h5v30h-5z M80.0 700h5v36h-5z M86.0 695h5v41h-5z M92.0 690h5v46h-5z M122.0 716h5v20h-5z M128.0 711h5v25h-5z M134.0 709h5v27h-5z M146.0 710h5v26h-5z M158.0 709h5v27h-5z M164.0 704h5v32h-5z M170.0 703h5v33h-5z M182.0 700h5v36h-5z M248.0 734h5v2h-5z M266.0 729h5v7h-5z M272.0 726h5v10h-5z M362.0 727h5v9h-5z M368.0 711h5v25h-5z M374.0 699h5v37h-5z M380.0 696h5v40h-5z M398.0 697h5v39h-5z M428.0 710h5v26h-5z M434.0 705h5v31h-5z M458.0 724h5v12h-5z M542.0 731h5v5h-5z M548.0 731h5v5h-5z M554.0 728h5v8h-5z M566.0 727h5v9h-5z M626.0 728h5v8h-5z M632.0 725h5v11h-5z M662.0 734h5v2h-5z M710.0 735h5v1h-5z M776.0 733h5v3h-5z M830.0 730h5v6h-5z M836.0 725h5v11h-5z M842.0 725h5v11h-5z M848.0 722h5v14h-5z M860.0 722h5v14h-5z M866.0 717h5v19h-5z M872.0 712h5v24h-5z M878.0 704h5v32h-5z M884.0 703h5v33h-5z M890.0 699h5v37h-5z M1034.0 735h5v1h-5z M1040.0 728h5v8h-5z M1046.0 726h5v10h-5z" fill="#22ab94" shape-rendering="crispEdges"/>
<path d="M44.0 732h5v4h-5z M68.0 716h5v20h-5z M98.0 696h5v40h-5z M104.0 703h5v33h-5z M110.0 711h5v25h-5z M116.0 717h5v19h-5z M140.0 711h5v25h-5z M152.0 711h5v25h-5z M176.0 704h5v32h-5z M188.0 704h5v32h-5z M194.0 710h5v26h-5z M200.0 720h5v16h-5z M278.0 731h5v5h-5z M386.0 697h5v39h-5z M392.0 700h5v36h-5z M404.0 700h5v36h-5z M410.0 705h5v31h-5z M416.0 707h5v29h-5z M422.0 713h5v23h-5z M440.0 712h5v24h-5z M446.0 721h5v15h-5z M452.0 726h5v10h-5z M464.0 728h5v8h-5z M470.0 735h5v1h-5z M560.0 730h5v6h-5z M572.0 733h5v3h-5z M638.0 725h5v11h-5z M644.0 729h5v7h-5z M650.0 734h5v2h-5z M668.0 734h5v2h-5z M854.0 724h5v12h-5z M896.0 703h5v33h-5z M902.0 712h5v24h-5z M908.0 723h5v13h-5z M914.0 729h5v7h-5z M1052.0 726h5v10h-5z M1058.0 734h5v2h-5z" fill="#ace5dc" shape-rendering="crispEdges"/>
<path d="M-4.0 735h5v25h-5z M2.0 735h5v20h-5z M8.0 735h5v19h-5z M14.0 735h5v14h-5z M20.0 735h5v7h-5z M218.0 735h5v15h-5z M224.0 735h5v7h-5z M230.0 735h5v1h-5z M260.0 735h5v1h-5z M302.0 735h5v6h-5z M320.0 735h5v8h-5z M326.0 735h5v3h-5z M344.0 735h5v53h-5z M350.0 735h5v35h-5z M356.0 735h5v14h-5z M488.0 735h5v7h-5z M500.0 735h5v2h-5z M530.0 735h5v6h-5z M536.0 735h5v1h-5z M584.0 735h5v4h-5z M602.0 735h5v13h-5z M608.0 735h5v9h-5z M614.0 735h5v3h-5z M620.0 735h5v1h-5z M698.0 735h5v14h-5z M704.0 735h5v5h-5z M740.0 735h5v31h-5z M746.0 735h5v28h-5z M752.0 735h5v21h-5z M758.0 735h5v14h-5z M764.0 735h5v9h-5z M770.0 735h5v4h-5z M812.0 735h5v13h-5z M818.0 735h5v8h-5z M824.0 735h5v3h-5z M938.0 735h5v12h-5z M944.0 735h5v9h-5z M950.0 735h5v8h-5z M956.0 735h5v8h-5z M992.0 735h5v29h-5z M1004.0 735h5v28h-5z M1010.0 735h5v26h-5z M1016.0 735h5v24h-5z M1022.0 735h5v18h-5z M1028.0 735h5v13h-5z" fill="#fccbcd" shape-rendering="crispEdges"/>
<path d="M206.0 735h5v1h-5z M212.0 735h5v15h-5z M236.0 735h5v2h-5z M242.0 735h5v3h-5z M254.0 735h5v4h-5z M284.0 735h5v5h-5z M290.0 735h5v5h-5z M296.0 735h5v7h-5z M308.0 735h5v8h-5z M314.0 735h5v10h-5z M332.0 735h5v35h-5z M338.0 735h5v62h-5z M476.0 735h5v6h-5z M482.0 735h5v7h-5z M494.0 735h5v10h-5z M506.0 735h5v3h-5z M512.0 735h5v7h-5z M518.0 735h5v7h-5z M524.0 735h5v9h-5z M578.0 735h5v4h-5z M590.0 735h5v7h-5z M596.0 735h5v14h-5z M656.0 735h5v4h-5z M674.0 735h5v8h-5z M680.0 735h5v11h-5z M686.0 735h5v18h-5z M692.0 735h5v20h-5z M716.0 735h5v1h-5z M722.0 735h5v9h-5z M728.0 735h5v23h-5z M734.0 735h5v31h-5z M782.0 735h5v3h-5z M788.0 735h5v3h-5z M794.0 735h5v10h-5z M800.0 735h5v16h-5z M806.0 735h5v20h-5z M920.0 735h5v2h-5z M926.0 735h5v12h-5z M932.0 735h5v17h-5z M962.0 735h5v10h-5z M968.0 735h5v10h-5z M974.0 735h5v14h-5z M980.0 735h5v26h-5z M986.0 735h5v30h-5z M998.0 735h5v30h-5z M1064.0 735h5v2h-5z M1070.0 735h5v6h-5z M1076.0 735h5v7h-5z" fill="#ff5252" shape-rendering="crispEdges"/>
<polyline points="-2,900.8 4,902.95 10,905.86 16,904.09 22,899.14 28,890.85 34,885.12 40,881.63 46,885.05 52,878.55 58,866.89 64,858.35 70,853.99 76,836.42 82,821.49 88,807.13 94,791.11 100,786.77 106,786.22 112,788.1 118,789.06 124,783.26 130,772.77 136,764.12 142,760.25 148,752.31 154,747.94 160,738.82 166,726.9 172,716.98 178,710.87 184,697.82 190,694.6 196,694.49 202,700.71 208,716.21 214,733.44 220,736.67 226,729.84 232,724.63 238,725.05 244,726.44 250,724.35 256,728.14 262,725.34 268,717.72 274,712.44 280,716.76 286,725.38 292,727.13 298,729.57 304,730.42 310,734.36 316,738.41 322,738.53 328,733.87 334,773.88 340,816.55 346,819.97 352,811.02 358,793.08 364,770.37 370,748.27 376,727.74 382,714.33 388,705.46 394,699.53 400,688.04 406,681.67 412,678.93 418,674.64 424,674.75 430,666.17 436,652.99 442,654.09 448,659.45 454,663.09 460,657.62 466,660.49 472,667.15 478,673.61 484,675.87 490,676.85 496,682.08 502,674.37 508,676.52 514,681.44 520,683.34 526,686.82 532,685.63 538,680.82 544,675.88 550,674.9 556,669.97 562,670.1 568,665.96 574,670.59 580,676.6 586,677.05 592,682.04 598,691.92 604,693.61 610,691.93 616,686.19 622,684.59 628,675.96 634,669.76 640,667.37 646,669.98 652,675.1 658,679.09 664,675.18 670,675.13 676,684.39 682,690.17 688,701.06 694,707.58 700,705.76 706,697.36 712,692.96 718,693.71 724,703.18 730,722.44 736,738.84 742,745.31 748,749.54 754,748.03 760,743.71 766,740.91 772,737.01 778,731.53 784,735.27 790,736.34 796,744.86 802,754.48 808,763.68 814,759.97 820,756.35 826,751.42 832,743.57 838,736.63 844,733.5 850,727.57 856,727.01 862,721.49 868,712.46 874,701.21 880,686 886,676.26 892,663.65 898,659.55 904,663.27 910,670.52 916,675.52 922,682.46 928,694.78 934,704.15 940,701.86 946,700.44 952,702.06 958,703.23 964,707.32 970,710.16 976,717.06 982,734.87 988,747.15 994,752.62 1000,760.91 1006,766.18 1012,770.47 1018,773.43 1024,771.81 1030,770.24 1036,757.44 1042,748.62 1048,744.57 1054,742.95 1060,749.77 1066,752.6 1072,758.36 1078,760.55" fill="none" stroke="#2196f3" stroke-width="1"/>
<polyline points="-2,878 4,883.62 10,888.07 16,891.27 22,892.85 28,892.45 34,890.98 40,889.11 46,888.3 52,886.35 58,882.46 64,877.63 70,872.91 76,865.61 82,856.79 88,846.85 94,835.7 100,825.92 106,817.98 112,812 118,807.41 124,802.58 130,796.62 136,790.12 142,784.15 148,777.78 154,771.81 160,765.21 166,757.55 172,749.44 178,741.72 184,732.94 190,725.27 196,719.12 202,715.44 208,715.59 214,719.16 220,722.66 226,724.1 232,724.2 238,724.37 244,724.79 250,724.7 256,725.39 262,725.38 268,723.85 274,721.56 280,720.6 286,721.56 292,722.67 298,724.05 304,725.33 310,727.13 316,729.39 322,731.22 328,731.75 334,740.17 340,755.45 346,768.35 352,776.89 358,780.13 364,778.18 370,772.19 376,763.3 382,753.51 388,743.9 394,735.02 400,725.63 406,716.84 412,709.26 418,702.33 424,696.82 430,690.69 436,683.15 442,677.34 448,673.76 454,671.63 460,668.82 466,667.16 472,667.16 478,668.45 484,669.93 490,671.31 496,673.47 502,673.65 508,674.22 514,675.67 520,677.2 526,679.12 532,680.42 538,680.5 544,679.58 550,678.64 556,676.91 562,675.55 568,673.63 574,673.02 580,673.74 586,674.4 592,675.93 598,679.13 604,682.02 610,684.01 616,684.44 622,684.47 628,682.77 634,680.17 640,677.61 646,676.08 652,675.89 658,676.53 664,676.26 670,676.03 676,677.7 682,680.2 688,684.37 694,689.01 700,692.36 706,693.36 712,693.28 718,693.37 724,695.33 730,700.75 736,708.37 742,715.75 748,722.51 754,727.61 760,730.83 766,732.85 772,733.68 778,733.25 784,733.65 790,734.19 796,736.32 802,739.95 808,744.7 814,747.76 820,749.47 826,749.86 832,748.61 838,746.21 844,743.67 850,740.45 856,737.76 862,734.51 868,730.1 874,724.32 880,716.66 886,708.58 892,699.59 898,691.58 904,685.92 910,682.84 916,681.38 922,681.59 928,684.23 934,688.21 940,690.94 946,692.84 952,694.69 958,696.39 964,698.58 970,700.9 976,704.13 982,710.28 988,717.65 994,724.65 1000,731.9 1006,738.75 1012,745.1 1018,750.76 1024,754.97 1030,758.03 1036,757.91 1042,756.05 1048,753.76 1054,751.59 1060,751.23 1066,751.5 1072,752.88 1078,754.41" fill="none" stroke="#ff4081" stroke-width="2" stroke-linejoin="round"/>
</g>
<rect x="0" y="621" width="1280" height="1" fill="#e0e3eb"/>
<g font-family="'Liberation Sans', Arial, sans-serif">
<g clip-path="url(#am)">
<text x="1224" y="6.5" font-size="12" fill="#131722" stroke="#131722" stroke-width="0.3" textLength="40" lengthAdjust="spacingAndGlyphs">0.68000</text>
<text x="1224" y="38.5" font-size="12" fill="#131722" stroke="#131722" stroke-width="0.3" textLength="40" lengthAdjust="spacingAndGlyphs">0.67500</text>
<text x="1224" y="70.5" font-size="12" fill="#131722" stroke="#131722" stroke-width="0.3" textLength="40" lengthAdjust="spacingAndGlyphs">0.67000</text>
<text x="1224" y="102.5" font-size="12" fill="#131722" stroke="#131722" stroke-width="0.3" textLength="40" lengthAdjust="spacingAndGlyphs">0.66500</text>
<text x="1224" y="134.5" font-size="12" fill="#131722" stroke="#131722" stroke-width="0.3" textLength="40" lengthAdjust="spacingAndGlyphs">0.66000</text>
<text x="1224" y="166.5" font-size="12" fill="#131722" stroke="#131722" stroke-width="0.3" textLength="40" lengthAdjust="spacingAndGlyphs">0.65500</text>
<text x="1224" y="198.5" font-size="12" fill="#131722" stroke="#131722" stroke-width="0.3" textLength="40" lengthAdjust="spacingAndGlyphs">0.65000</text>
<text x="1224" y="230.5" font-size="12" fill="#131722" stroke="#131722" stroke-width="0.3" textLength="40" lengthAdjust="spacingAndGlyphs">0.64500</text>
<text x="1224" y="262.5" font-size="12" fill="#131722" stroke="#131722" stroke-width="0.3" textLength="40" lengthAdjust="spacingAndGlyphs">0.64000</text>
<text x="1224" y="294.5" font-size="12" fill="#131722" stroke="#131722" stroke-width="0.3" textLength="40" lengthAdjust="spacingAndGlyphs">0.63500</text>
<text x="1224" y="326.5" font-size="12" fill="#131722" stroke="#131722" stroke-width="0.3" textLength="40" lengthAdjust="spacingAndGlyphs">0.63000</text>
<text x="1224" y="358.5" font-size="12" fill="#131722" stroke="#131722" stroke-width="0.3" textLength="40" lengthAdjust="spacingAndGlyphs">0.62500</text>
<text x="1224" y="390.5" font-size="12" fill="#131722" stroke="#131722" stroke-width="0.3" textLength="40" lengthAdjust="spacingAndGlyphs">0.62000</text>
<text x="1224" y="422.5" font-size="12" fill="#131722" stroke="#131722" stroke-width="0.3" textLength="40" lengthAdjust="spacingAndGlyphs">0.61500</text>
<text x="1224" y="454.5" font-size="12" fill="#131722" stroke="#131722" stroke-width="0.3" textLength="40" lengthAdjust="spacingAndGlyphs">0.61000</text>
<text x="1224" y="486.5" font-size="12" fill="#131722" stroke="#131722" stroke-width="0.3" textLength="40" lengthAdjust="spacingAndGlyphs">0.60500</text>
<text x="1224" y="518.5" font-size="12" fill="#131722" stroke="#131722" stroke-width="0.3" textLength="40" lengthAdjust="spacingAndGlyphs">0.60000</text>
<text x="1224" y="550.5" font-size="12" fill="#131722" stroke="#131722" stroke-width="0.3" textLength="40" lengthAdjust="spacingAndGlyphs">0.59500</text>
<text x="1224" y="582.5" font-size="12" fill="#131722" stroke="#131722" stroke-width="0.3" textLength="40" lengthAdjust="spacingAndGlyphs">0.59000</text>
<text x="1224" y="614.5" font-size="12" fill="#131722" stroke="#131722" stroke-width="0.3" textLength="40" lengthAdjust="spacingAndGlyphs">0.58500</text>
</g>
<g clip-path="url(#ad)">
<text x="1224.5" y="626" font-size="12" fill="#131722" stroke="#131722" stroke-width="0.3" textLength="40" lengthAdjust="spacingAndGlyphs">0.00600</text>
<text x="1224.5" y="663.5" font-size="12" fill="#131722" stroke="#131722" stroke-width="0.3" textLength="40" lengthAdjust="spacingAndGlyphs">0.00400</text>
<text x="1224.5" y="701" font-size="12" fill="#131722" stroke="#131722" stroke-width="0.3" textLength="40" lengthAdjust="spacingAndGlyphs">0.00200</text>
<text x="1224.5" y="738.5" font-size="12" fill="#131722" stroke="#131722" stroke-width="0.3" textLength="40" lengthAdjust="spacingAndGlyphs">0.00000</text>
<text x="1224.5" y="776" font-size="12" fill="#131722" stroke="#131722" stroke-width="0.3" textLength="45" lengthAdjust="spacingAndGlyphs">−0.00200</text>
<text x="1224.5" y="813.5" font-size="12" fill="#131722" stroke="#131722" stroke-width="0.3" textLength="45" lengthAdjust="spacingAndGlyphs">−0.00400</text>
<text x="1224.5" y="851" font-size="12" fill="#131722" stroke="#131722" stroke-width="0.3" textLength="45" lengthAdjust="spacingAndGlyphs">−0.00600</text>
<text x="1224.5" y="888.5" font-size="12" fill="#131722" stroke="#131722" stroke-width="0.3" textLength="45" lengthAdjust="spacingAndGlyphs">−0.00800</text>
<text x="1224.5" y="926" font-size="12" fill="#131722" stroke="#131722" stroke-width="0.3" textLength="45" lengthAdjust="spacingAndGlyphs">−0.01000</text>
</g>
<path d="M1214 123h54a2 2 0 0 1 2 2v13a2 2 0 0 1 -2 2h-54z" fill="#2196f3"/>
<text x="1224" y="136" font-size="12" fill="#fff" stroke="#fff" stroke-width="0.3" textLength="40" lengthAdjust="spacingAndGlyphs">0.65958</text>
<path d="M1214 140h54a2 2 0 0 1 2 2v13a2 2 0 0 1 -2 2h-54z" fill="#e07600"/>
<text x="1224" y="153" font-size="12" fill="#fff" stroke="#fff" stroke-width="0.3" textLength="40" lengthAdjust="spacingAndGlyphs">0.65419</text>
<path d="M1214 157h54a2 2 0 0 1 2 2v13a2 2 0 0 1 -2 2h-54z" fill="#f8b530"/>
<text x="1224" y="170" font-size="12" fill="#000" stroke="#000" stroke-width="0.3" textLength="40" lengthAdjust="spacingAndGlyphs">0.65239</text>
<path d="M1214 174h54a2 2 0 0 1 2 2v13a2 2 0 0 1 -2 2h-54z" fill="#2ea0e4"/>
<text x="1224" y="187" font-size="12" fill="#fff" stroke="#fff" stroke-width="0.3" textLength="40" lengthAdjust="spacingAndGlyphs">0.65189</text>
<path d="M1214 191h54a2 2 0 0 1 2 2v13a2 2 0 0 1 -2 2h-54z" fill="#f7f7f7"/>
<text x="1224" y="204" font-size="12" fill="#000" stroke="#000" stroke-width="0.3" textLength="40" lengthAdjust="spacingAndGlyphs">0.64927</text>
<path d="M1214 224h54a2 2 0 0 1 2 2v13a2 2 0 0 1 -2 2h-54z" fill="#2196f3"/>
<text x="1224" y="237" font-size="12" fill="#fff" stroke="#fff" stroke-width="0.3" textLength="40" lengthAdjust="spacingAndGlyphs">0.64421</text>
<path d="M1214 733h60a2 2 0 0 1 2 2v13a2 2 0 0 1 -2 2h-60z" fill="#ff5252"/>
<text x="1224" y="746" font-size="12" fill="#fff" stroke="#fff" stroke-width="0.3" textLength="45" lengthAdjust="spacingAndGlyphs">−0.00032</text>
<path d="M1214 750h60a2 2 0 0 1 2 2v13a2 2 0 0 1 -2 2h-60z" fill="#ff4081"/>
<text x="1224" y="763" font-size="12" fill="#fff" stroke="#fff" stroke-width="0.3" textLength="45" lengthAdjust="spacingAndGlyphs">−0.00104</text>
<path d="M1214 767h60a2 2 0 0 1 2 2v13a2 2 0 0 1 -2 2h-60z" fill="#2196f3"/>
<text x="1224" y="780" font-size="12" fill="#fff" stroke="#fff" stroke-width="0.3" textLength="45" lengthAdjust="spacingAndGlyphs">−0.00136</text>
<text x="2.9" y="950" font-size="12" fill="#131722" stroke="#131722" stroke-width="0.7" textLength="26.4" lengthAdjust="spacingAndGlyphs">2025</text>
<text x="124" y="950" font-size="12" fill="#131722" stroke="#131722" stroke-width="0.3" text-anchor="middle">Feb</text>
<text x="220" y="950" font-size="12" fill="#131722" stroke="#131722" stroke-width="0.3" text-anchor="middle">Mar</text>
<text x="322" y="950" font-size="12" fill="#131722" stroke="#131722" stroke-width="0.3" text-anchor="middle">Apr</text>
<text x="430" y="950" font-size="12" fill="#131722" stroke="#131722" stroke-width="0.3" text-anchor="middle">May</text>
<text x="532" y="950" font-size="12" fill="#131722" stroke="#131722" stroke-width="0.3" text-anchor="middle">Jun</text>
<text x="634" y="950" font-size="12" fill="#131722" stroke="#131722" stroke-width="0.3" text-anchor="middle">Jul</text>
<text x="748" y="950" font-size="12" fill="#131722" stroke="#131722" stroke-width="0.3" text-anchor="middle">Aug</text>
<text x="844" y="950" font-size="12" fill="#131722" stroke="#131722" stroke-width="0.3" text-anchor="middle">Sep</text>
<text x="952" y="950" font-size="12" fill="#131722" stroke="#131722" stroke-width="0.3" text-anchor="middle">Oct</text>
<text x="1060" y="950" font-size="12" fill="#131722" stroke="#131722" stroke-width="0.3" text-anchor="middle">Nov</text>
<text x="1180" y="950" font-size="12" fill="#131722" stroke="#131722" stroke-width="0.3" text-anchor="middle">Dec</text>
<g fill="#fff" fill-opacity="0.75"><rect x="8" y="5" width="684" height="25"/><rect x="8" y="30" width="212" height="25"/><rect x="8" y="55" width="180" height="24"/><rect x="8" y="79" width="180" height="21"/><rect x="8" y="630" width="304" height="22"/></g>
<text y="21.7" font-size="16" stroke-width="0.3"><tspan x="9.2" fill="#131722" stroke="#131722" textLength="70" lengthAdjust="spacingAndGlyphs">Australian</tspan> <tspan x="85.6" fill="#131722" stroke="#131722" textLength="67.4" lengthAdjust="spacingAndGlyphs">Dollar/US</tspan> <tspan x="159.8" fill="#131722" stroke="#131722" textLength="41" lengthAdjust="spacingAndGlyphs">Dollar</tspan> <tspan x="205.3" fill="#131722" stroke="#131722">·</tspan> <tspan x="213.4" fill="#131722" stroke="#131722" textLength="18.6" lengthAdjust="spacingAndGlyphs">1D</tspan> <tspan x="235.8" fill="#131722" stroke="#131722">·</tspan> <tspan x="244.5" fill="#131722" stroke="#131722" textLength="37.9" lengthAdjust="spacingAndGlyphs">FXCM</tspan></text>
<circle cx="306" cy="16" r="9" fill="#eff0f2"/><rect x="300.5" y="13.5" width="11" height="5" rx="2.5" fill="#f7f8f9"/><rect x="301" y="14" width="10" height="4" rx="2" fill="#9497a3"/>
<text y="20.8" font-size="13" stroke-width="0.3"><tspan x="331.25" fill="#131722" stroke="#131722" textLength="9" lengthAdjust="spacingAndGlyphs">O</tspan><tspan x="341.1" fill="#131722" stroke="#131722" textLength="46.1" lengthAdjust="spacingAndGlyphs">0.64795</tspan> <tspan x="394.7" fill="#131722" stroke="#131722" textLength="7.4" lengthAdjust="spacingAndGlyphs">H</tspan><tspan x="403.6" fill="#131722" stroke="#131722" textLength="45.8" lengthAdjust="spacingAndGlyphs">0.64991</tspan> <tspan x="457.5" fill="#131722" stroke="#131722" textLength="6.5" lengthAdjust="spacingAndGlyphs">L</tspan><tspan x="465.3" fill="#131722" stroke="#131722" textLength="46.1" lengthAdjust="spacingAndGlyphs">0.64674</tspan> <tspan x="518.4" fill="#131722" stroke="#131722" textLength="6.8" lengthAdjust="spacingAndGlyphs">C</tspan><tspan x="526.6" fill="#131722" stroke="#131722" textLength="46.1" lengthAdjust="spacingAndGlyphs">0.64927</tspan> <tspan x="580.5" fill="#131722" stroke="#131722" textLength="52.3" lengthAdjust="spacingAndGlyphs">+0.00132</tspan> <tspan x="639" fill="#131722" stroke="#131722" textLength="49.3" lengthAdjust="spacingAndGlyphs">(+0.20%)</tspan></text>
<text y="45" font-size="13" stroke-width="0.3"><tspan x="9.2" fill="#131722" stroke="#131722" textLength="13.5" lengthAdjust="spacingAndGlyphs">BB</tspan> <tspan x="28.2" fill="#50535e" stroke="#50535e" textLength="23.9" lengthAdjust="spacingAndGlyphs">20 2</tspan> <tspan x="67.3" fill="#2ea0e4" stroke="#2ea0e4" textLength="45.8" lengthAdjust="spacingAndGlyphs">0.65189</tspan> <tspan x="120.3" fill="#2196f3" stroke="#2196f3" textLength="46.3" lengthAdjust="spacingAndGlyphs">0.65958</tspan> <tspan x="172.8" fill="#2196f3" stroke="#2196f3" textLength="46" lengthAdjust="spacingAndGlyphs">0.64421</tspan></text>
<text y="69" font-size="13" stroke-width="0.3"><tspan x="9.2" fill="#131722" stroke="#131722" textLength="15.8" lengthAdjust="spacingAndGlyphs">MA</tspan> <tspan x="30.5" fill="#50535e" stroke="#50535e" textLength="93.4" lengthAdjust="spacingAndGlyphs">10 close 0 SMA 9</tspan> <tspan x="139.2" fill="#f8b530" stroke="#f8b530" textLength="46" lengthAdjust="spacingAndGlyphs">0.65239</tspan></text>
<text y="93" font-size="13" stroke-width="0.3"><tspan x="9.2" fill="#131722" stroke="#131722" textLength="15.8" lengthAdjust="spacingAndGlyphs">MA</tspan> <tspan x="30.5" fill="#50535e" stroke="#50535e" textLength="93.4" lengthAdjust="spacingAndGlyphs">50 close 0 SMA 9</tspan> <tspan x="139.2" fill="#e07600" stroke="#e07600" textLength="46" lengthAdjust="spacingAndGlyphs">0.65419</tspan></text>
<rect x="9.5" y="102.5" width="28" height="20" rx="3" fill="#fff" stroke="#d1d4dc" stroke-width="1"/>
<path d="M19.4 114.4L23.4 110.7L27.4 114.4" fill="none" stroke="#131722" stroke-width="1.3"/>
<text y="642.5" font-size="13" stroke-width="0.3"><tspan x="9.25" fill="#131722" stroke="#131722" textLength="32" lengthAdjust="spacingAndGlyphs">MACD</tspan> <tspan x="47" fill="#50535e" stroke="#50535e" textLength="74.25" lengthAdjust="spacingAndGlyphs">12 26 close 9</tspan> <tspan x="137" fill="#ff5252" stroke="#ff5252" textLength="51.75" lengthAdjust="spacingAndGlyphs">−0.00032</tspan> <tspan x="197" fill="#2196f3" stroke="#2196f3" textLength="52.25" lengthAdjust="spacingAndGlyphs">−0.00136</tspan> <tspan x="257.5" fill="#ff4081" stroke="#ff4081" textLength="52" lengthAdjust="spacingAndGlyphs">−0.00104</tspan></text>
</g>
<circle cx="23.5" cy="910" r="16.3" fill="#fff" stroke="#e3e5ea" stroke-width="1"/>
<path d="M12.9 905.4H22.1V915.8H17.9V908.9H12.9z M28.8 905.4H34.2L30 915.8H25z" fill="#131722"/><circle cx="25.1" cy="907.1" r="1.75" fill="#131722"/>
<circle cx="1247.4" cy="946.4" r="5.1" fill="none" stroke="#131722" stroke-width="1.2"/><path d="M1252.5 946.4L1254.8 946.4" stroke="#131722" stroke-width="1.2"/><path d="M1251.01 950.01L1252.63 951.63" stroke="#131722" stroke-width="1.2"/><path d="M1247.4 951.5L1247.4 953.8" stroke="#131722" stroke-width="1.2"/><path d="M1243.79 950.01L1242.17 951.63" stroke="#131722" stroke-width="1.2"/><path d="M1242.3 946.4L1240 946.4" stroke="#131722" stroke-width="1.2"/><path d="M1243.79 942.79L1242.17 941.17" stroke="#131722" stroke-width="1.2"/><path d="M1247.4 941.3L1247.4 939" stroke="#131722" stroke-width="1.2"/><path d="M1251.01 942.79L1252.63 941.17" stroke="#131722" stroke-width="1.2"/></svg>
</body></html>
